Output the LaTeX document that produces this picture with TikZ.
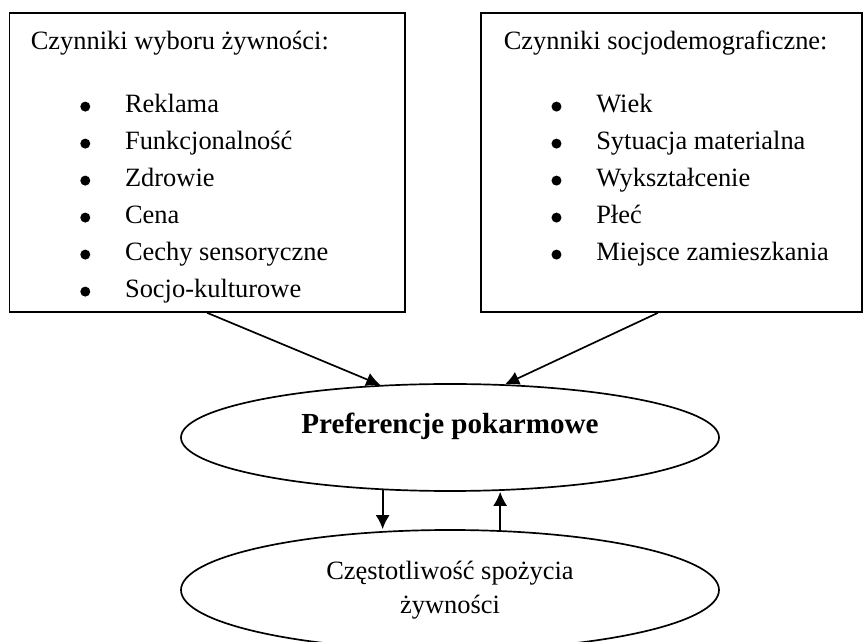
\documentclass[tikz,border=0pt]{standalone}
\usepackage{fontspec}
\setmainfont{Liberation Serif}
\usetikzlibrary{shapes.geometric,arrows.meta}

\newcommand{\bulletitem}[1]{\makebox[1.12cm][l]{\raisebox{0.035cm}{\tikz\fill (0,0) circle (0.125cm);}}#1}

\begin{document}
\begin{tikzpicture}[font=\fontsize{18.8}{26}\selectfont, line width=1.2pt,
	factorbox/.style={draw, rectangle, inner sep=0pt, minimum height=7.475cm},
	oval/.style={draw, ellipse, inner sep=0pt, minimum width=13.45cm},
	item/.style={anchor=base west, inner sep=0pt},
	flow/.style={arrows={-Latex[length=10pt,width=10pt]}}]
	\useasboundingbox (0,0) rectangle (21.6,16.025);
	% left box
	\node[factorbox, minimum width=9.89cm] (choice) at (5.18,11.9625) {};
	\node[item] (choicehead) at (0.75,14.775) {Czynniki wyboru żywności:};
	\node[item] (reklama) at (2.0,13.2) {\bulletitem{Reklama}};
	\node[item] (funkcja) at (2.0,12.275) {\bulletitem{Funkcjonalność}};
	\node[item] (zdrowie) at (2.0,11.35) {\bulletitem{Zdrowie}};
	\node[item] (cena) at (2.0,10.425) {\bulletitem{Cena}};
	\node[item] (sensor) at (2.0,9.5) {\bulletitem{Cechy sensoryczne}};
	\node[item] (kultura) at (2.0,8.575) {\bulletitem{Socjo-kulturowe}};
	% right box
	\node[factorbox, minimum width=9.525cm] (socio) at (16.7875,11.9625) {};
	\node[item] (sociohead) at (12.575,14.775) {Czynniki socjodemograficzne:};
	\node[item] (wiek) at (13.78,13.2) {\bulletitem{Wiek}};
	\node[item] (sytuacja) at (13.78,12.275) {\bulletitem{Sytuacja materialna}};
	\node[item] (wyksztalcenie) at (13.78,11.35) {\bulletitem{Wykształcenie}};
	\node[item] (plec) at (13.78,10.425) {\bulletitem{Płeć}};
	\node[item] (miejsce) at (13.78,9.5) {\bulletitem{Miejsce zamieszkania}};
	% ellipses
	\node[oval, minimum height=2.675cm] (pref) at (11.25,5.0875) {};
	\node[font=\fontsize{20.7}{26}\selectfont\bfseries] (preftext) at (11.25,5.37) {Preferencje pokarmowe};
	\node[oval, minimum height=3cm, align=center, font=\fontsize{18.8}{24.2}\selectfont] (freq) at (11.25,1.275) {Częstotliwość spożycia\\żywności};
	\draw[flow] (choice.south) -- (pref.143);
	\draw[flow] ([xshift=-0.34cm]socio.south) -- (pref.44);
	\draw[flow] (pref.218) -- (pref.218 |- freq.north);
	\draw[flow] (freq.50) -- (freq.50 |- pref.south);
\end{tikzpicture}
\end{document}
